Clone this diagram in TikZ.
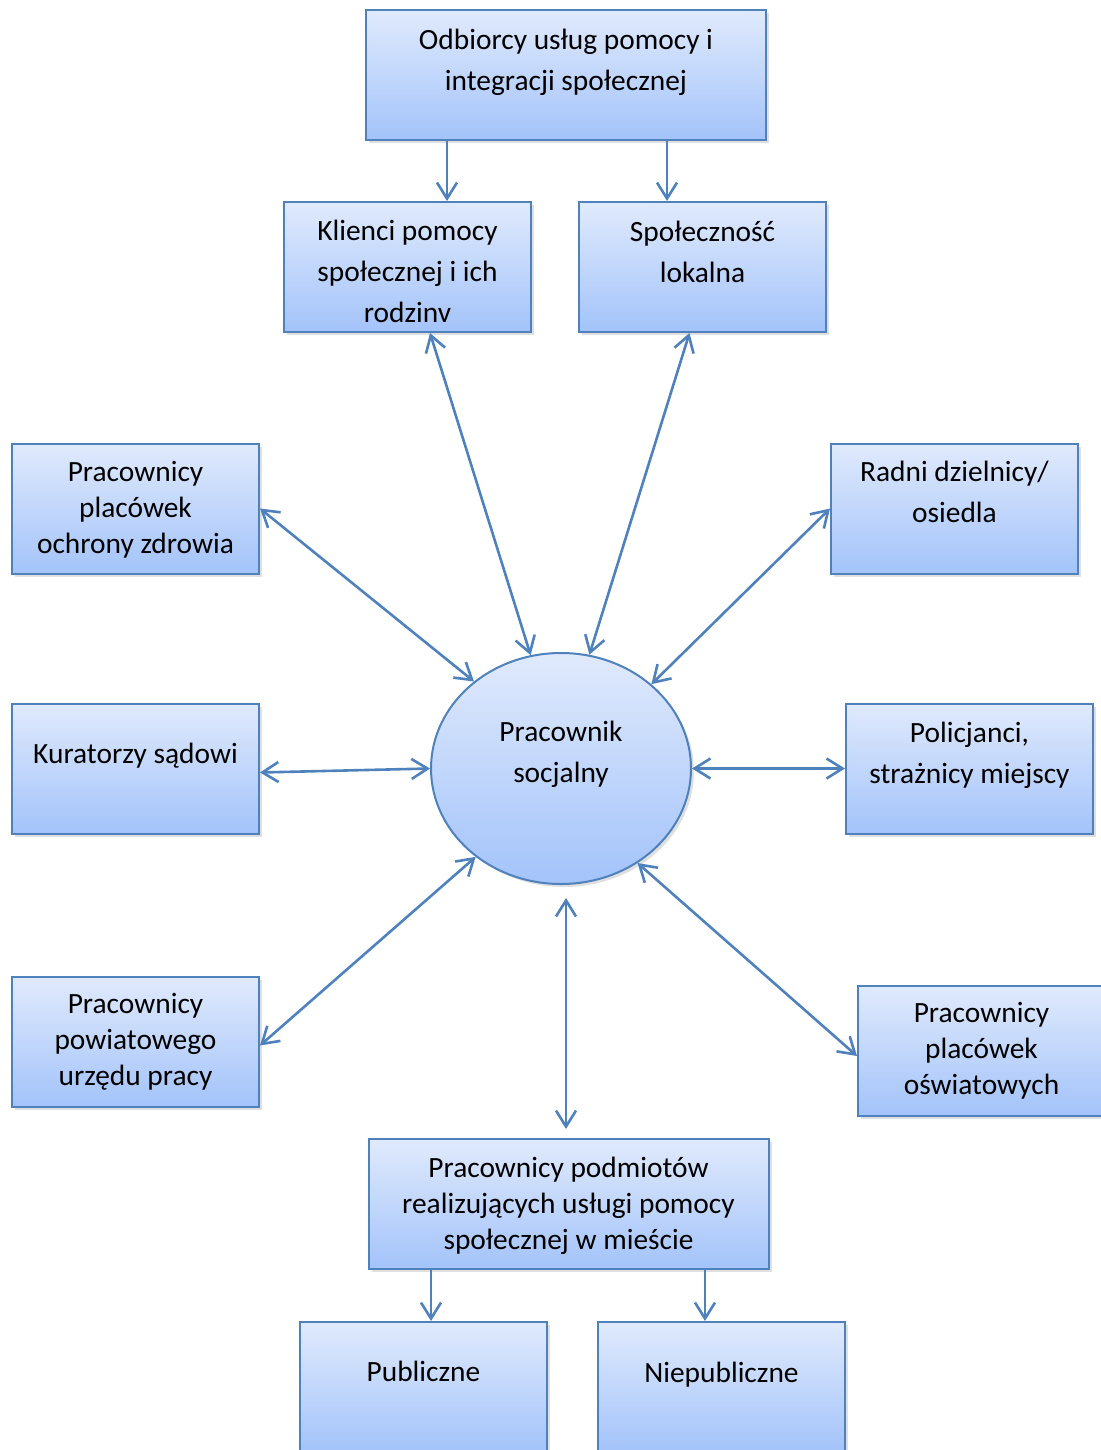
\documentclass[tikz,border=0pt]{standalone}
\usepackage{fontspec}
\setmainfont{Carlito}
\usepackage{tikz}
\usetikzlibrary{positioning, shapes.geometric, shadows, arrows.meta}
\definecolor{lineblue}{RGB}{79,129,189}
\definecolor{filltop}{RGB}{224,234,252}
\definecolor{fillbot}{RGB}{163,195,250}
\tikzset{
	agency/.style={
		rectangle,
		draw=lineblue,
		line width=1pt,
		top color=filltop,
		bottom color=fillbot,
		minimum width=123.5pt,
		minimum height=65pt,
		drop shadow={shadow xshift=1.5pt, shadow yshift=-1.5pt, opacity=0.25},
	},
	wide/.append style={
		minimum width=200pt,
	},
	person/.style={
		ellipse,
		draw=lineblue,
		line width=1pt,
		top color=filltop,
		bottom color=fillbot,
		minimum width=130pt,
		minimum height=115.5pt,
		drop shadow={shadow xshift=1.5pt, shadow yshift=-1.5pt, opacity=0.25},
	},
	intext/.style={
		anchor=north,
		inner sep=0pt,
		align=center,
		font={\fontsize{14.7pt}{18pt}\selectfont}
	},
	loose/.append style={
		font={\fontsize{14.7pt}{20.5pt}\selectfont}
	},
	link/.style={
		draw=lineblue,
		line width=1.3pt,
	}
}

\begin{document}
\begin{tikzpicture}[x=0.5pt, y=-0.5pt, >={Straight Barb[length=8pt, width=10pt]}]
\clip (0,0) rectangle (1101,1450);

% top row
\node[agency, wide, label={[intext, loose, yshift=-9.8pt]north:{Odbiorcy usług pomocy i\\integracji społecznej}}] (odb) at (566,75) {};
\node[agency, below=30pt of odb, xshift=-79.25pt, label={[intext, loose, yshift=-9.3pt]north:{Klienci pomocy\\społecznej i ich\\rodzinv}}] (kli) {};
\node[agency, right=23pt of kli, label={[intext, loose, yshift=-9.8pt]north:{Społeczność\\lokalna}}] (spo) {};

% centre
\node[person, label={[intext, loose, yshift=-34.3pt]north:{Pracownik\\socjalny}}] (ps) at (561,768.5) {};

% left column
\node[agency, left=85pt of ps, label={[intext, yshift=-20.3pt]north:{Kuratorzy sądowi}}] (kur) {};
\node[agency, above=64pt of kur, label={[intext, yshift=-9.3pt]north:{Pracownicy\\placówek\\ochrony zdrowia}}] (ochr) {};
\node[agency, below=70.5pt of kur, label={[intext, yshift=-8.8pt]north:{Pracownicy\\powiatowego\\urzędu pracy}}] (pup) {};

% right column
\node[agency, right=76.5pt of ps, label={[intext, loose, yshift=-9.8pt]north:{Policjanci,\\strażnicy miejscy}}] (pol) {};
\node[agency, above=64pt of pol, xshift=-7.5pt, label={[intext, loose, yshift=-9.3pt]north:{Radni dzielnicy/\\osiedla}}] (rad) {};
\node[agency, below=75pt of pol, xshift=6pt, label={[intext, yshift=-8.8pt]north:{Pracownicy\\placówek\\oświatowych}}] (osw) {};

% bottom
\node[agency, wide, below=126.5pt of ps, xshift=3.75pt, label={[intext, yshift=-9.3pt]north:{Pracownicy podmiotów\\realizujących usługi pomocy\\społecznej w mieście}}] (pod) {};
\node[agency, below=25.5pt of pod, xshift=-72.5pt, label={[intext, yshift=-19.8pt]north:{Publiczne}}] (pub) {};
\node[agency, right=24.5pt of pub, label={[intext, yshift=-20.3pt]north:{Niepubliczne}}] (nie) {};

% connectors
\draw[link, ->] ([xshift=-59.5pt]odb.south) -- ([xshift=-59.5pt]odb.south |- kli.north);
\draw[link, ->] ([xshift=50.5pt]odb.south) -- ([xshift=50.5pt]odb.south |- spo.north);
\draw[link, <->] ([xshift=11.25pt]kli.south) -- (ps.105);
\draw[link, <->] ([xshift=-6.5pt]spo.south) -- (ps.76);
\draw[link, <->] (ochr.east) -- (ps.135);
\draw[link, <->] (rad.west) -- (ps.43);
\draw[link, <->] ([yshift=-2pt]kur.east) -- (ps.west);
\draw[link, <->] (ps.east) -- (pol.west);
\draw[link, <->] ([yshift=-2pt]pup.east) -- (ps.226);
\draw[link, <->] ([yshift=-2.75pt]osw.west) -- (ps.-51);
\draw[link, <->, shorten <=6.5pt, shorten >=4.5pt] ([xshift=2.5pt]ps.south) -- ([xshift=2.5pt]ps.south |- pod.north);
\draw[link, ->] ([xshift=-68.75pt]pod.south) -- ([xshift=-68.75pt]pod.south |- pub.north);
\draw[link, ->] ([xshift=68.25pt]pod.south) -- ([xshift=68.25pt]pod.south |- nie.north);
\end{tikzpicture}
\end{document}
